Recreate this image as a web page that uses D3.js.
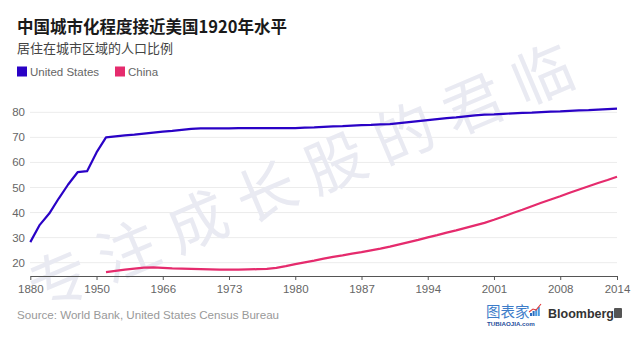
<!DOCTYPE html>
<html><head><meta charset="utf-8">
<script src="https://cdn.jsdelivr.net/npm/d3@7"></script>
<style>
body{margin:0;background:#fff;}
svg{display:block;font-family:"Liberation Sans",Arial,sans-serif;}
</style></head>
<body><svg id="c" width="640" height="338"></svg>
<script>
const years = ["1880","1890","1900","1910","1920","1930","1940","1950",
"1960","1961","1962","1963","1964","1965","1966","1967","1968","1969","1970","1971","1972","1973","1974","1975","1976","1977","1978","1979","1980","1981","1982","1983","1984","1985","1986","1987","1988","1989","1990","1991","1992","1993","1994","1995","1996","1997","1998","1999","2000","2001","2002","2003","2004","2005","2006","2007","2008","2009","2010","2011","2012","2013","2014"];
const usValues = [28.2,35.1,39.6,45.6,51.2,56.1,56.5,64.0,
70.0,70.4,70.8,71.1,71.5,71.9,72.3,72.6,73.0,73.4,73.6,73.6,73.6,73.6,73.7,73.7,73.7,73.7,73.7,73.7,73.7,73.9,74.0,74.2,74.4,74.5,74.7,74.9,75.0,75.2,75.3,75.7,76.1,76.5,76.9,77.3,77.7,78.0,78.4,78.8,79.1,79.2,79.4,79.6,79.8,79.9,80.1,80.3,80.4,80.6,80.8,80.9,81.1,81.3,81.5];
const chinaValues = [null,null,null,null,null,null,null,null,
16.2,16.7,17.2,17.6,18.0,18.1,17.9,17.7,17.6,17.5,17.4,17.3,17.2,17.2,17.2,17.3,17.4,17.5,17.9,18.6,19.4,20.1,20.8,21.6,22.3,22.9,23.6,24.2,24.9,25.6,26.4,27.3,28.2,29.1,30.1,31.0,32.0,32.9,33.9,34.9,35.9,37.1,38.4,39.8,41.1,42.5,43.9,45.2,46.5,47.9,49.2,50.5,51.8,53.0,54.3];
const xTickLabels = ["1880","1950","1966","1973","1980","1987","1994","2001","2008","2014"];
const yTicks = [20,30,40,50,60,70,80];
const seriesNames = ["United States","China"];
const colors = ["#2a02c6","#e52b6d"];

const svg = d3.select("#c");
svg.append("rect").attr("width",640).attr("height",338).attr("fill","#fff");

const x = d3.scalePoint().domain(years).range([30.3,617]);
const y = d3.scaleLinear().domain([15,85]).range([275.2,99.8]);

// gridlines
svg.append("g").selectAll("line").data(yTicks).join("line")
  .attr("x1",30).attr("x2",617).attr("y1",d=>y(d)).attr("y2",d=>y(d))
  .attr("stroke","#ececec").attr("stroke-width",1);

// y labels
svg.append("g").selectAll("text").data(yTicks).join("text")
  .attr("x",25).attr("y",d=>y(d)).attr("dy","0.35em").attr("text-anchor","end")
  .attr("font-size",11.5).attr("fill","#666").text(d=>d);

// watermark
svg.append("text")
  .attr("transform","translate(40,312) rotate(-23)")
  .attr("font-family","'Noto Sans CJK SC',sans-serif")
  .attr("font-size",60).attr("fill","#e9eaf2")
  .attr("letter-spacing",15)
  .text("专注成长股的君临");

// x axis
const xAxis = d3.axisBottom(x).tickValues(xTickLabels).tickSize(4).tickSizeOuter(0);
const gx = svg.append("g").attr("transform","translate(0,276)").call(xAxis);
gx.select(".domain").attr("stroke","#555");
gx.selectAll(".tick line").attr("stroke","#555");
gx.selectAll(".tick text").attr("font-size",11.5).attr("fill","#666")
  .attr("font-family","'Liberation Sans',Arial,sans-serif").attr("dy","0.9em");

// lines
const line = d3.line().defined(d=>d[1]!=null).x(d=>x(d[0])).y(d=>y(d[1]));
[usValues,chinaValues].forEach((vals,i)=>{
  svg.append("path").datum(years.map((yr,j)=>[yr,vals[j]]))
    .attr("d",line).attr("fill","none").attr("stroke",colors[i])
    .attr("stroke-width",2.2).attr("stroke-linejoin","round");
});

// title
svg.append("text").attr("x",17).attr("y",33).attr("font-size",16.5).attr("font-weight","bold")
  .attr("fill","#1a1a1a").attr("font-family","'Noto Sans CJK SC',sans-serif")
  .text("中国城市化程度接近美国1920年水平");
svg.append("text").attr("x",17).attr("y",53).attr("font-size",13)
  .attr("fill","#444").attr("font-family","'Noto Sans CJK SC',sans-serif")
  .text("居住在城市区域的人口比例");

// legend
const legX = [17,115];
seriesNames.forEach((n,i)=>{
  svg.append("rect").attr("x",legX[i]).attr("y",66.5).attr("width",10).attr("height",10).attr("fill",colors[i]);
  svg.append("text").attr("x",legX[i]+13).attr("y",71.7).attr("dy","0.35em")
    .attr("font-size",11.5).attr("fill","#666").text(n);
});

// source
svg.append("text").attr("x",17).attr("y",314.5).attr("dy","0.35em").attr("font-size",11.6)
  .attr("fill","#999").text("Source: World Bank, United States Census Bureau");

// logos
svg.append("text").attr("x",486).attr("y",317).attr("font-size",14.5)
  .attr("font-family","'Noto Sans CJK SC',sans-serif").attr("fill","#3d7cc9").text("图表家");
svg.append("text").attr("x",487).attr("y",325.5).attr("font-size",6.2).attr("font-weight","bold")
  .attr("fill","#1f4e9c").text("TUBIAOJIA.com");
const ib = [3,5,7,9];
svg.append("g").selectAll("rect").data(ib).join("rect")
  .attr("x",(d,i)=>530+i*2.6).attr("y",d=>316-d).attr("width",2).attr("height",d=>d)
  .attr("fill",(d,i)=>i<2?"#2a6bbf":"#4a9be0");
svg.append("path").attr("d","M529,312 L533,309 L536,310 L541,304").attr("fill","none")
  .attr("stroke","#e23a3a").attr("stroke-width",1.1);
svg.append("text").attr("x",548).attr("y",318).attr("font-size",12.5).attr("font-weight","bold")
  .attr("fill","#333").attr("font-family","'Liberation Sans',Arial,sans-serif").text("Bloomberg");
svg.append("rect").attr("x",614).attr("y",308).attr("width",8).attr("height",10).attr("rx",1).attr("fill","#555");
</script>
</body></html>
